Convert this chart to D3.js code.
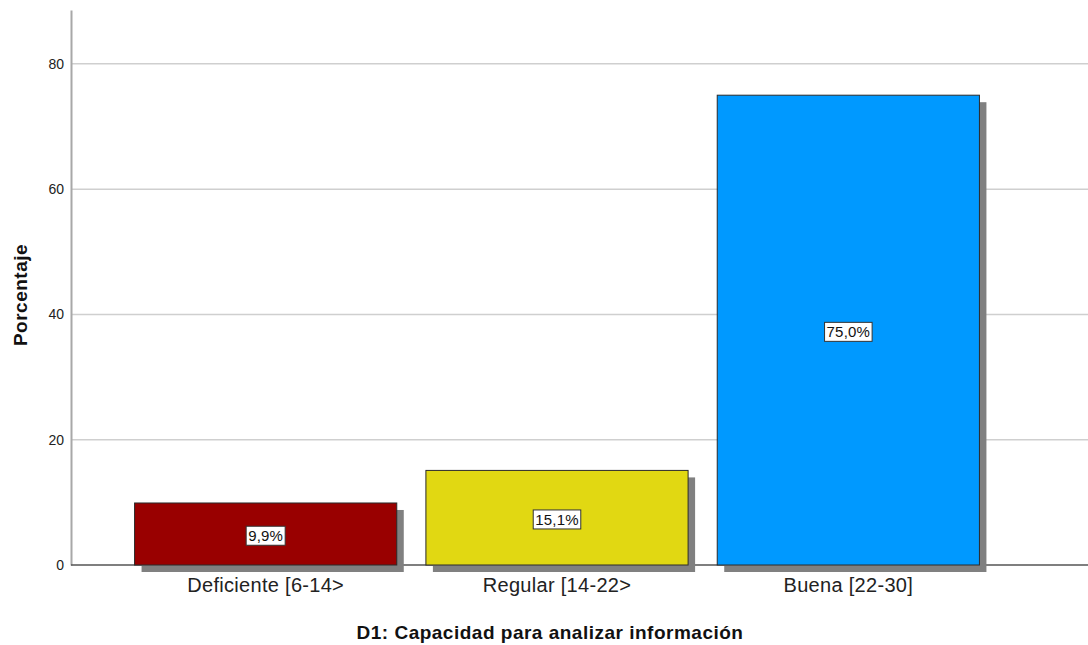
<!DOCTYPE html>
<html><head><meta charset="utf-8">
<script src="https://cdn.jsdelivr.net/npm/d3@7"></script>
<style>body{margin:0;background:#fff}svg{display:block}</style>
</head><body>
<svg id="c" width="1088" height="645"></svg>
<script>
const categories = ["Deficiente [6-14>", "Regular [14-22>", "Buena [22-30]"];
const values = [9.9, 15.1, 75.0];
const labels = ["9,9%", "15,1%", "75,0%"];
const colors = ["#990000", "#e1d812", "#0099ff"];
const yTicks = [0, 20, 40, 60, 80];
const FONT = "Arial, 'Liberation Sans', sans-serif";

const svg = d3.select("#c");
const x = d3.scaleBand().domain(categories).range([120, 994]).paddingInner(0.1).paddingOuter(0.05);
const y = d3.scaleLinear().domain([0, 88.6]).range([565, 10]);

// gridlines
svg.append("g").selectAll("line").data(yTicks.filter(d => d > 0)).join("line")
  .attr("x1", 71).attr("x2", 1088).attr("y1", d => y(d)).attr("y2", d => y(d))
  .attr("stroke", "#cfcfcf").attr("stroke-width", 1.5);

// y axis
const ya = svg.append("g").attr("transform", "translate(71,0)").call(d3.axisLeft(y).tickValues(yTicks).tickSize(0).tickPadding(7));
ya.select(".domain").attr("stroke", "#a8a8a8").attr("stroke-width", 2);
ya.selectAll("text").attr("font-family", FONT).attr("font-size", 14).attr("fill", "#222");

// x axis line
svg.append("line").attr("x1", 71).attr("x2", 1088).attr("y1", y(0)).attr("y2", y(0)).attr("stroke", "#555").attr("stroke-width", 1.5);

const data = categories.map((c, i) => ({c, v: values[i], l: labels[i], col: colors[i]}));
// shadows
svg.append("g").selectAll("rect").data(data).join("rect")
  .attr("x", d => x(d.c) + 7).attr("y", d => y(d.v) + 7)
  .attr("width", x.bandwidth()).attr("height", d => y(0) - y(d.v))
  .attr("fill", "#808080");
// bars
svg.append("g").selectAll("rect").data(data).join("rect")
  .attr("x", d => x(d.c)).attr("y", d => y(d.v))
  .attr("width", x.bandwidth()).attr("height", d => y(0) - y(d.v))
  .attr("fill", d => d.col).attr("stroke", "#2a2a2a").attr("stroke-width", 1);

// labels
const lg = svg.append("g").selectAll("g").data(data).join("g")
  .attr("transform", d => `translate(${x(d.c) + x.bandwidth() / 2},${(y(d.v) + y(0)) / 2 + 2})`);
lg.append("text").attr("text-anchor", "middle").attr("dy", "0.35em")
  .attr("font-family", FONT).attr("font-size", 15).attr("letter-spacing", 0.2).attr("fill", "#111")
  .text(d => d.l);
lg.each(function () {
  const g = d3.select(this);
  const bb = g.select("text").node().getBBox();
  g.insert("rect", "text").attr("x", bb.x - 2).attr("y", bb.y - 1).attr("width", bb.width + 4).attr("height", bb.height + 2)
    .attr("fill", "#fff").attr("stroke", "#333").attr("stroke-width", 1);
});

// category labels
const xa = svg.append("g").attr("transform", `translate(0,${y(0)})`).call(d3.axisBottom(x).tickSize(0).tickPadding(13));
xa.select(".domain").remove();
xa.selectAll("text").attr("font-family", FONT).attr("font-size", 20).attr("letter-spacing", 0.3).attr("fill", "#222");

// titles
svg.append("text").attr("x", 550).attr("y", 639).attr("text-anchor", "middle")
  .attr("font-family", FONT).attr("font-size", 19).attr("letter-spacing", 0.5).attr("font-weight", "bold").attr("fill", "#111")
  .text("D1: Capacidad para analizar información");
svg.append("text").attr("transform", "translate(27,295) rotate(-90)").attr("text-anchor", "middle")
  .attr("font-family", FONT).attr("font-size", 19).attr("letter-spacing", 0.5).attr("font-weight", "bold").attr("fill", "#111")
  .text("Porcentaje");
</script>
</body></html>
